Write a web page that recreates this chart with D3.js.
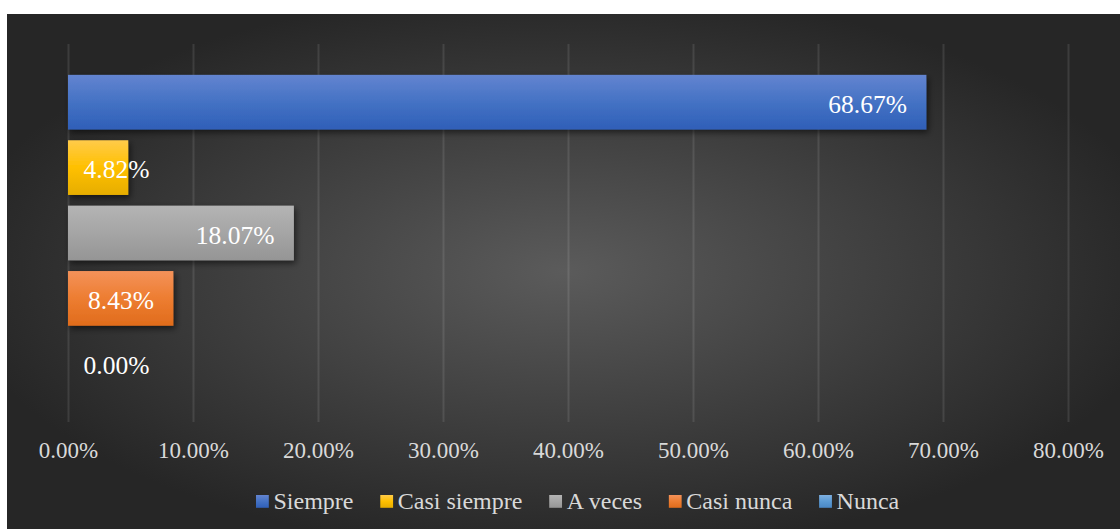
<!DOCTYPE html>
<html><head><meta charset="utf-8">
<script src="https://cdn.jsdelivr.net/npm/d3@7"></script>
<style>html,body{margin:0;padding:0;background:#fff;}svg{display:block;}</style>
</head><body>
<svg id="chart" width="1120" height="529"></svg>
<script>
const categories = ["Siempre","Casi siempre","A veces","Casi nunca","Nunca"];
const values = [68.67, 4.82, 18.07, 8.43, 0.00];
const tickValues = [0,10,20,30,40,50,60,70,80];
const colorTop = ["#6384d0","#ffcb4a","#b4b4b4","#f4925a","#7fb0e0"];
const colorMid = ["#4472c4","#ffc000","#a5a5a5","#ed7d31","#5b9bd5"];
const colorBot = ["#2f5fb8","#e6ad00","#959595","#e06c1c","#4a88c6"];
const FONT = "Liberation Serif, Times New Roman, serif";

const svg = d3.select("#chart");
const defs = svg.append("defs");
const bg = defs.append("radialGradient").attr("id","bg").attr("cx","50%").attr("cy","50%").attr("r","55%");
bg.append("stop").attr("offset","0%").attr("stop-color","#5b5b5b");
bg.append("stop").attr("offset","100%").attr("stop-color","#262626");
categories.forEach((c,i)=>{
  const g = defs.append("linearGradient").attr("id","g"+i).attr("x1",0).attr("y1",0).attr("x2",0).attr("y2",1);
  g.append("stop").attr("offset","0%").attr("stop-color",colorTop[i]);
  g.append("stop").attr("offset","50%").attr("stop-color",colorMid[i]);
  g.append("stop").attr("offset","100%").attr("stop-color",colorBot[i]);
});
const f = defs.append("filter").attr("id","sh").attr("x","-10%").attr("y","-20%").attr("width","130%").attr("height","160%");
f.append("feDropShadow").attr("dx",2).attr("dy",3).attr("stdDeviation",3).attr("flood-color","#000").attr("flood-opacity",0.55);

svg.append("rect").attr("x",7).attr("y",14).attr("width",1113).attr("height",515).attr("fill","url(#bg)");

const x = d3.scaleLinear().domain([0,80]).range([68,1068]);
const y = d3.scaleBand().domain(categories).range([44,422]).paddingInner(0.1636).paddingOuter(0.472);

// gridlines
svg.append("g").attr("transform","translate(0,422)")
  .call(d3.axisBottom(x).tickValues(tickValues).tickSize(-378).tickFormat(""))
  .call(g=>g.select(".domain").remove())
  .call(g=>g.selectAll("line").attr("stroke","#ffffff").attr("stroke-opacity",0.1).attr("stroke-width",2));

// axis labels
svg.append("g").attr("transform","translate(0,422)")
  .call(d3.axisBottom(x).tickValues(tickValues).tickSize(0).tickPadding(0).tickFormat(d=>d.toFixed(2)+"%"))
  .call(g=>g.select(".domain").remove())
  .call(g=>g.selectAll("text").attr("dy",null).attr("y",36).attr("fill","#d9d9d9")
    .attr("font-family",FONT).attr("font-size",23));

// bars
svg.append("g").selectAll("rect").data(categories).join("rect")
  .attr("x",x(0)).attr("y",d=>y(d))
  .attr("width",(d,i)=>x(values[i])-x(0)).attr("height",y.bandwidth())
  .attr("fill",(d,i)=>"url(#g"+i+")")
  .attr("filter",(d,i)=>values[i]>0?"url(#sh)":null);

// data labels
const lab = svg.append("g").selectAll("text").data(categories).join("text")
  .attr("fill","#ffffff").attr("text-anchor","end")
  .attr("font-family",FONT).attr("font-size",25.5)
  .attr("y",d=>y(d)+y.bandwidth()/2+10.5)
  .text((d,i)=>values[i].toFixed(2)+"%");
lab.each(function(d,i){
  const w = this.getComputedTextLength();
  const xe = Math.max(x(values[i]) - 19.5, x(0) + 15.5 + w);
  d3.select(this).attr("x",xe);
});

// legend
const leg = svg.append("g");
let lx = 256;
categories.forEach((c,i)=>{
  leg.append("rect").attr("x",lx).attr("y",495).attr("width",12.8).attr("height",12.8).attr("fill","url(#g"+i+")");
  const t = leg.append("text").attr("x",lx+17.5).attr("y",509).attr("fill","#d9d9d9")
    .attr("font-family",FONT).attr("font-size",24).text(c);
  lx += 17.5 + t.node().getComputedTextLength() + 26.8;
});
</script>
</body></html>
